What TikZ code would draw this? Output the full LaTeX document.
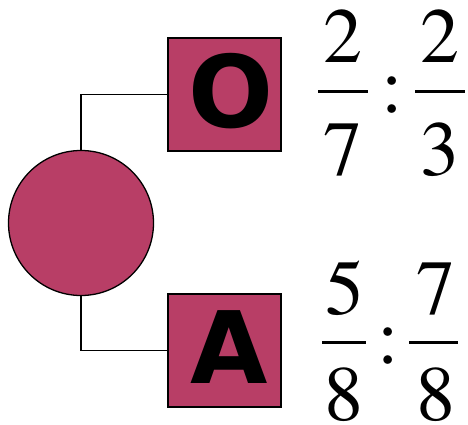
\documentclass[tikz,border=0pt]{standalone}
\usepackage[T1]{fontenc}
\usepackage{fontspec}
\newcommand{\numfont}{\fontencoding{T1}\fontfamily{ptm}\selectfont}
\newfontfamily\lettfont{DejaVu Sans}
\usepackage{xcolor}
\usepackage{tikz}
\usetikzlibrary{positioning}
\definecolor{berry}{RGB}{184,62,102}

\begin{document}
\begin{tikzpicture}[x=1pt, y=-1pt,
  allele/.style={draw, line width=2pt, fill=berry, minimum size=113pt, inner sep=0pt},
  letter/.style={inner sep=0pt, font=\lettfont\bfseries\fontsize{100}{110}\selectfont},
  digit/.style={inner sep=0pt, anchor=base, font=\numfont\fontsize{78}{90}\selectfont},
  bar/.style={line width=3pt}]
\useasboundingbox (0,0) rectangle (468,425);

\node (p) at (81,223) [circle, draw, line width=1.3pt, fill=berry, minimum size=145pt, inner sep=0pt]{};
\node (o) at (224.5,94.5) [allele]{};
\node (a) at (224.5,350.5) [allele]{};
\node (lo) at ([xshift=7pt,yshift=3pt]o.center) [letter]{O};
\node (la) at ([xshift=4.5pt,yshift=3pt]a.center) [letter]{A};

\draw[line width=1.2pt] (p.north) |- (o.west);
\draw[line width=1.2pt] (p.south) |- (a.west);

\node (n1) at (343,63) [digit]{2};
\node (d1) at (343,175) [digit]{7};
\node (c1) at (392,113) [digit]{:};
\node (n2) at (440,63) [digit]{2};
\node (d2) at (440,175) [digit]{3};
\draw[bar] (318,92) -- (368,92);
\draw[bar] (415,92) -- (465,92);

\node (n3) at (345,314) [digit]{5};
\node (d3) at (344,420) [digit]{8};
\node (c3) at (388,363) [digit]{:};
\node (n4) at (436,314) [digit]{7};
\node (d4) at (436,420) [digit]{8};
\draw[bar] (322,342) -- (366,342);
\draw[bar] (409,342) -- (458,342);

\end{tikzpicture}
\end{document}
